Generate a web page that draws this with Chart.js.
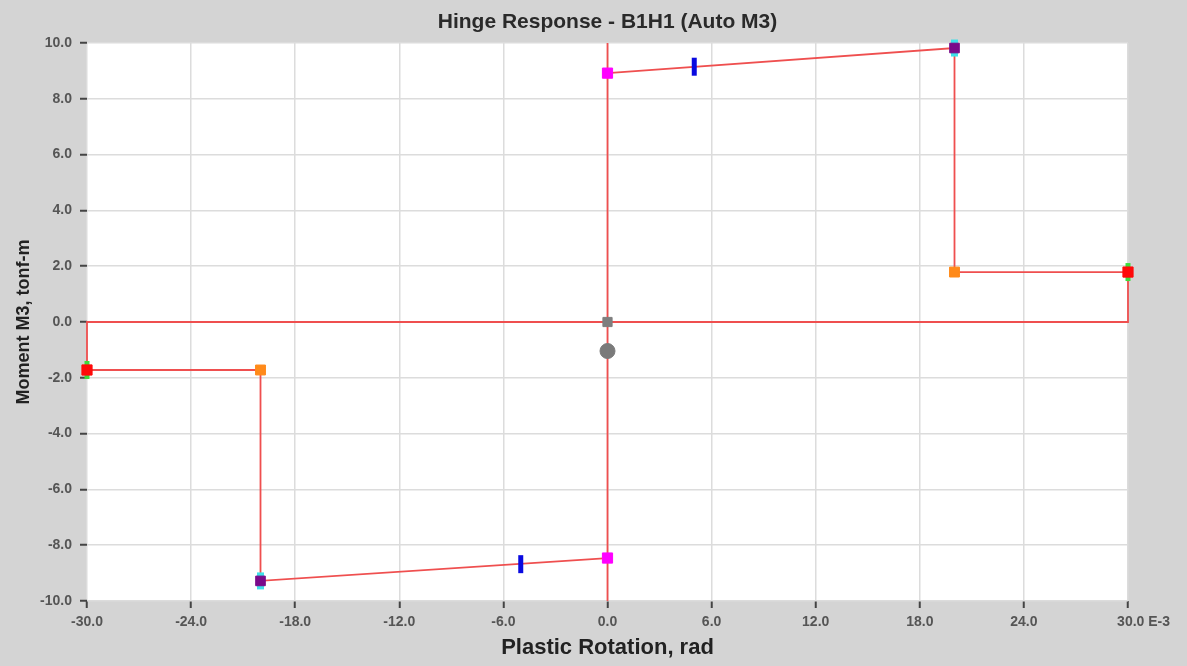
<!DOCTYPE html>
<html>
<head>
<meta charset="utf-8">
<script src="https://cdn.jsdelivr.net/npm/chart.js@4.4.1/dist/chart.umd.min.js"></script>
<style>
  html, body { margin: 0; padding: 0; background: #d4d4d4; }
  #wrap { width: 1187px; height: 666px; position: relative; }
</style>
</head>
<body>
<div id="wrap"><canvas id="hingeChart"></canvas></div>
<script>
// Hinge response data (plastic rotation in E-3 rad, moment in tonf-m)
const pathX = [0, 20, 20, 30, 30, -30, -30, -20, -20, 0];
const pathY = [8.92, 9.82, 1.79, 1.79, 0, 0, -1.72, -1.72, -9.28, -8.46];

const axisX = [0, 0];
const axisY = [-10, 10];

const yieldX = [0, 0];
const yieldY = [8.92, -8.46];

const ioX = [5, -5];
const ioY = [9.15, -8.68];

const capX = [20, -20];
const capY = [9.82, -9.28];

const residualX = [20, -20];
const residualY = [1.79, -1.72];

const ultimateX = [30, -30];
const ultimateY = [1.79, -1.72];

const originX = [0];
const originY = [0];

const currentX = [0];
const currentY = [-1.04];

const xTicks = [-30, -24, -18, -12, -6, 0, 6, 12, 18, 24, 30];
const yTicks = [-10, -8, -6, -4, -2, 0, 2, 4, 6, 8, 10];

const chartTitle = 'Hinge Response - B1H1 (Auto M3)';
const FONT = 'Liberation Sans, Arial, sans-serif';

function pts(xs, ys) {
    return xs.map((x, i) => ({ x: x, y: ys[i] }));
}

// Markers are listed first so they are drawn on top of the lines
function marker(xs, ys, color, style, radius, extra) {
    return Object.assign({
        data: pts(xs, ys),
        showLine: false,
        clip: false,
        pointStyle: style,
        pointRadius: radius,
        pointBackgroundColor: color,
        pointBorderColor: color,
        pointBorderWidth: 1
    }, extra || {});
}

// White plot area and a title centred over the plot
const plotDecor = {
    id: 'plotDecor',
    beforeDraw(chart) {
        const { ctx, chartArea } = chart;
        ctx.save();
        ctx.fillStyle = '#ffffff';
        ctx.fillRect(chartArea.left, chartArea.top, chartArea.right - chartArea.left, chartArea.bottom - chartArea.top);
        ctx.fillStyle = '#2a2a2a';
        ctx.font = 'bold 21px ' + FONT;
        ctx.textAlign = 'center';
        ctx.textBaseline = 'middle';
        ctx.fillText(chartTitle, (chartArea.left + chartArea.right) / 2, 22);
        ctx.restore();
    }
};

const ctx = document.getElementById('hingeChart').getContext('2d');

new Chart(ctx, {
    type: 'scatter',
    data: {
        datasets: [
            marker(currentX, currentY, '#7a7a7a', 'circle', 7.5),
            marker(originX, originY, '#7f7f7f', 'rect', 6.5),
            marker(ioX, ioY, '#0a0ae0', 'line', 9, { pointRotation: 90, pointBorderWidth: 5 }),
            marker(yieldX, yieldY, '#ff00ff', 'rect', 7.2),
            marker(capX, capY, '#7a0a8a', 'rect', 6.8),
            marker(capX, capY, '#3fe0e8', 'line', 8.5, { pointRotation: 90, pointBorderWidth: 7 }),
            marker(ultimateX, ultimateY, '#ff0a0a', 'rect', 7.2),
            marker(ultimateX, ultimateY, '#3cdc3c', 'line', 9, { pointRotation: 90, pointBorderWidth: 5 }),
            marker(residualX, residualY, '#ff8a1a', 'rect', 7),
            {
                data: pts(pathX, pathY),
                showLine: true,
                clip: 3,
                borderColor: '#ef4f4f',
                borderWidth: 1.8,
                pointRadius: 0,
                tension: 0
            },
            {
                data: pts(axisX, axisY),
                showLine: true,
                clip: 3,
                borderColor: '#ef4f4f',
                borderWidth: 1.8,
                pointRadius: 0
            }
        ]
    },
    options: {
        responsive: true,
        maintainAspectRatio: false,
        animation: false,
        layout: {
            padding: { top: 43, right: 59, bottom: 0, left: 0 }
        },
        plugins: {
            legend: { display: false },
            tooltip: { enabled: false },
            title: { display: false }
        },
        scales: {
            x: {
                type: 'linear',
                min: -30,
                max: 30,
                afterBuildTicks: scale => { scale.ticks = xTicks.map(v => ({ value: v })); },
                afterFit: scale => { scale.height = 65; },
                border: { display: false },
                grid: {
                    color: '#dcdcdc',
                    lineWidth: 1.5,
                    tickColor: '#444444',
                    tickLength: 7,
                    tickWidth: 2
                },
                ticks: {
                    autoSkip: false,
                    maxRotation: 0,
                    padding: 6,
                    color: '#555555',
                    font: { family: FONT, size: 14, weight: 'bold' },
                    callback: v => v === 30 ? '        30.0 E-3' : v.toFixed(1)
                },
                title: {
                    display: true,
                    text: 'Plastic Rotation, rad',
                    color: '#222222',
                    font: { family: FONT, size: 22, weight: 'bold' },
                    padding: { top: 0, bottom: 4.8 }
                }
            },
            y: {
                type: 'linear',
                min: -10,
                max: 10,
                afterBuildTicks: scale => { scale.ticks = yTicks.map(v => ({ value: v })); },
                afterFit: scale => { scale.width = 87; },
                border: { display: false },
                grid: {
                    color: '#dcdcdc',
                    lineWidth: 1.5,
                    tickColor: '#444444',
                    tickLength: 7,
                    tickWidth: 2
                },
                ticks: {
                    autoSkip: false,
                    padding: 8,
                    color: '#555555',
                    font: { family: FONT, size: 14, weight: 'bold' },
                    callback: v => v.toFixed(1)
                },
                title: {
                    display: true,
                    text: 'Moment M3, tonf-m',
                    color: '#222222',
                    font: { family: FONT, size: 18, weight: 'bold' },
                    padding: { top: 13, bottom: 0 }
                }
            }
        }
    },
    plugins: [plotDecor]
});
</script>
</body>
</html>
